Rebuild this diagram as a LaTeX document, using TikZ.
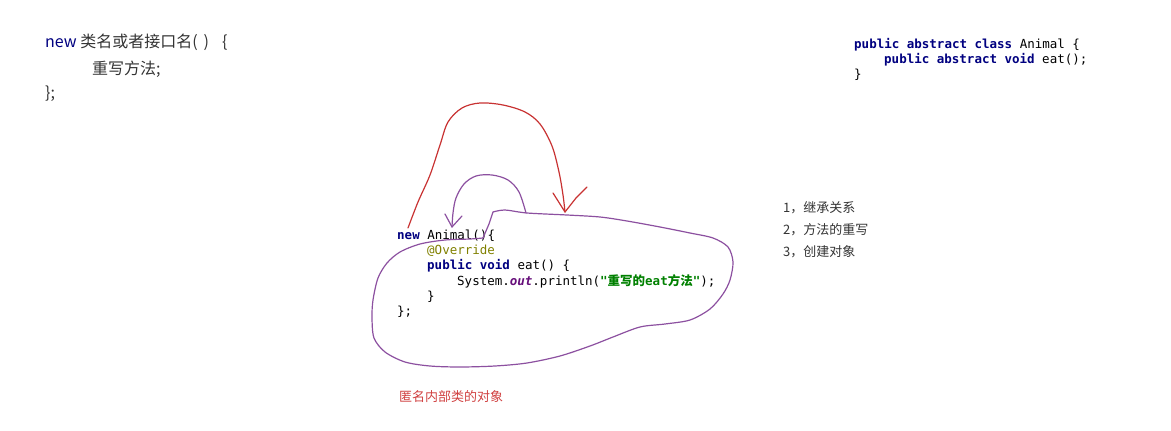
\documentclass[tikz,border=0pt]{standalone}
\usepackage{fontspec}
\setmainfont{Noto Sans CJK SC}
\setmonofont{DejaVu Sans Mono}
\newfontfamily\cjk{Noto Sans CJK SC}

\definecolor{kwblue}{HTML}{000080}
\definecolor{annot}{HTML}{808000}
\definecolor{fieldpurple}{HTML}{660E7A}
\definecolor{strgreen}{HTML}{008000}
\definecolor{textgray}{HTML}{333333}
\definecolor{penred}{HTML}{C83232}
\definecolor{penpurple}{HTML}{8C50A0}
\definecolor{labelred}{HTML}{D04040}

\newcommand{\javakw}[1]{\textcolor{kwblue}{\textbf{#1}}}

\begin{document}
\begin{tikzpicture}[x=1pt,y=-1pt,
  code/.style={anchor=base west, inner sep=0pt,
    font=\ttfamily\fontsize{12.5}{15}\selectfont},
  syntax/.style={anchor=base west, inner sep=0pt, text=textgray,
    font=\fontsize{16}{20}\selectfont},
  note/.style={anchor=base west, inner sep=0pt, text=textgray,
    font=\fontsize{13}{16}\selectfont},
  ink/.style={line width=1.2pt, line cap=round, line join=round}]
  \useasboundingbox (0,0) rectangle (1171,431);

  % general syntax
  \node[syntax] (synHead) at (45,47)
    {\textcolor{kwblue}{new} 类名或者接口名(\hspace{6pt})\hspace{13pt}\{};
  \node[syntax] (synBody) at (92,74) {重写方法;};
  \node[syntax] (synEnd)  at (45,98) {\};};

  % abstract class
  \node[code] (absHead) at (854,48)
    {\javakw{public abstract class} Animal \{};
  \node[code] (absEat)  at (884,63) {\javakw{public abstract void} eat();};
  \node[code] (absEnd)  at (854,78) {\}};

  % anonymous class
  \node[code] (anonHead)  at (397,239) {\javakw{new} Animal()\{};
  \node[code] (anonAnno)  at (427,254) {\textcolor{annot}{@Override}};
  \node[code] (anonEat)   at (427,269.5) {\javakw{public void} eat() \{};
  \node[code] (anonPrint) at (457,285)
    {System.\textcolor{fieldpurple}{\bfseries\itshape out}.println(%
     \textcolor{strgreen}{\bfseries "{\cjk 重写的}eat{\cjk 方法}"});};
  \node[code] (anonClose) at (427,300) {\}};
  \node[code] (anonEnd)   at (397,315) {\};};

  % points
  \node[note] (pInherit)  at (783,212) {1，继承关系};
  \node[note] (pOverride) at (783,234) {2，方法的重写};
  \node[note] (pCreate)   at (783,256) {3，创建对象};

  % caption
  \node[note, text=labelred] (caption) at (399,401) {匿名内部类的对象};

  % inheritance arrow
  \coordinate (redStart) at (408,228);
  \coordinate (redTip)   at (565,212);
  \draw[ink, penred] plot[smooth, tension=0.55] coordinates {
    (redStart) (418,202) (430,175) (440,145) (448,122) (462,108) (480,103)
    (503,105) (525,112) (540,124) (552,146) (559,172) (563,195) (redTip)};
  \draw[ink, penred] (553,193) -- (redTip) -- (576,198) -- (587,187);

  % override arrow
  \coordinate (purpleStart) at (526,213);
  \coordinate (purpleTip)   at (452,227);
  \draw[ink, penpurple] plot[smooth, tension=0.55] coordinates {
    (purpleStart) (519,192) (508,180) (492,175) (476,176) (464,184)
    (456,198) (453,213) (purpleTip)};
  \draw[ink, penpurple] (445,214) -- (purpleTip) -- (462,216);

  % object loop
  \coordinate (loopKink) at (493,212);
  \coordinate (loopEnd)  at (483,238);
  \draw[ink, penpurple] plot[smooth, tension=0.5] coordinates {
    (loopKink) (505,210) (527,213) (567,215) (600,217) (627,221) (660,227)
    (690,233) (713,238) (728,247) (733,262) (730,280) (723,294) (710,309)
    (690,320) (665,324) (640,327) (613,337) (590,346) (560,356) (527,363)
    (495,366) (460,367) (430,366) (405,362) (385,352) (374,338) (372,318)
    (373,300) (378,278) (387,263) (400,252) (420,244) (445,240) (470,239)
    (loopEnd)};
  \draw[ink, penpurple] (loopEnd) -- (489,224) -- (loopKink);
\end{tikzpicture}
\end{document}
